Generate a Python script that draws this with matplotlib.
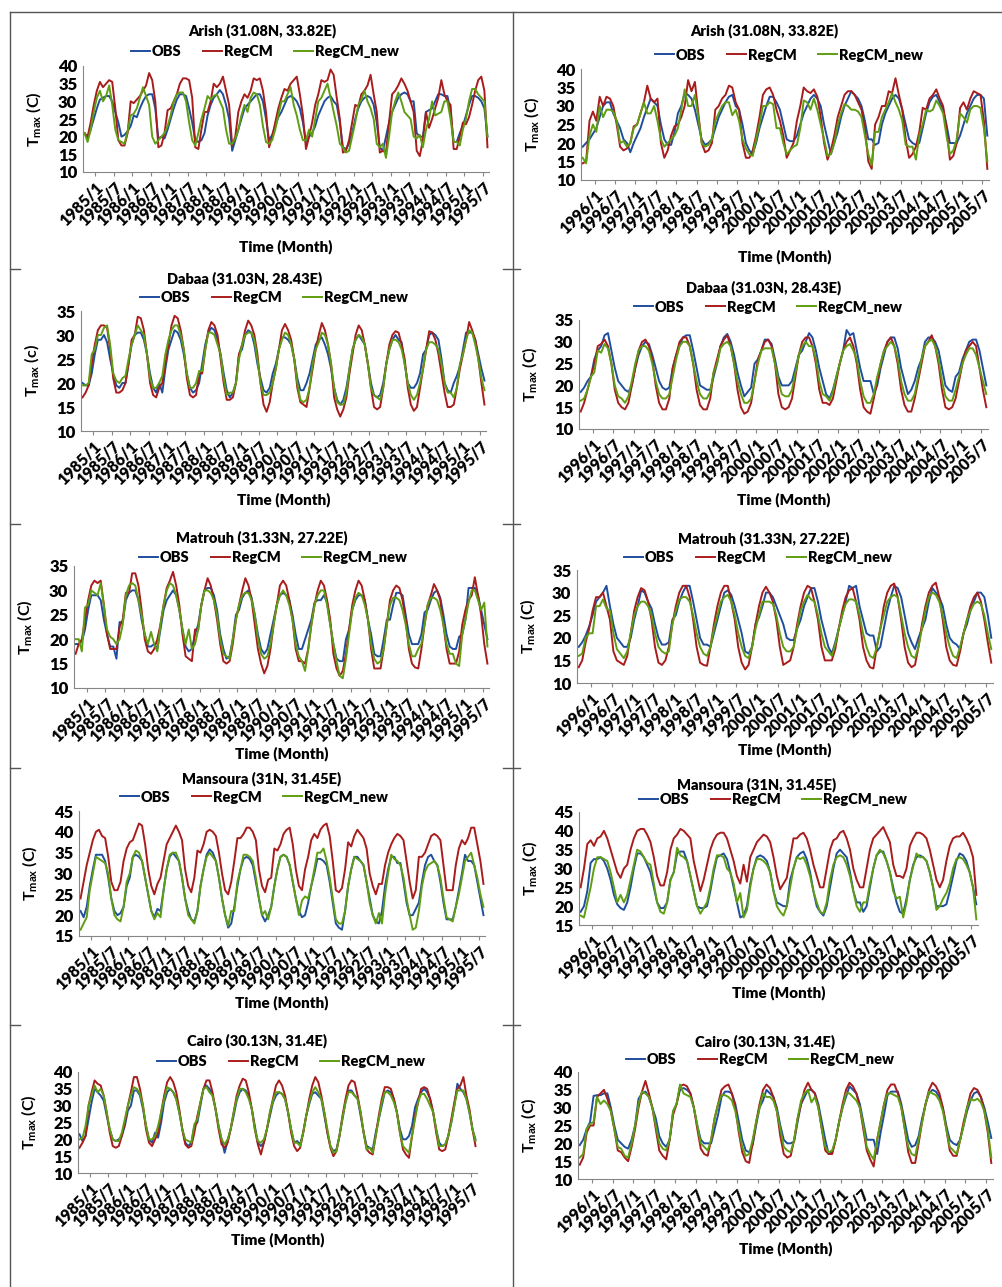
import numpy as np
import matplotlib.pyplot as plt
from matplotlib.lines import Line2D

plt.rcParams['font.family'] = ['Lato', 'DejaVu Sans']
plt.rcParams['font.weight'] = 'bold'
plt.rcParams['mathtext.fontset'] = 'custom'
plt.rcParams['mathtext.rm'] = 'Lato:bold'
plt.rcParams['mathtext.it'] = 'Lato:bold'
plt.rcParams['mathtext.bf'] = 'Lato:bold'


def arr(s):
    return np.array(s.split(), dtype=float)


# ---- data: monthly Tmax (C), one row per year ----
years_a = list(range(1985, 1996))
years_b = list(range(1996, 2006))

# Arish
arish_obs_a = arr("""
21 19.5 22 25 28 30.5 31 31.5 31.5 30 27 24
20 20.5 21.5 23 26 25.5 28 30 31.5 32 32 28
19.5 20 19.5 22 25 28 30.5 32 32 31.5 28 24
19 18.5 19 21 26 29 31 32 33.2 32 29 25
16 19 22 25 28 29 30 31 32 32 30 25
19 20.5 23 25.5 27 29 31 31.5 31 30 28 24
18.5 20 21 23 26 28 30 31 31.5 30 29 24
17 16.5 18 21 25 28 30 31 31.5 31 29 24
17 16 20 24 27 29 31 32 32.5 32 30 30
21 20 20 27 27.5 28 30 32 32 31.5 31.5 27
18.5 18.5 21 23 26 29 31.5 31.5 31 30 28 20
""")
arish_reg_a = arr("""
21 20 24 29 33 35.5 34 35 36 35.5 28 19
17.5 17.5 21 30 29.5 30.5 31.5 33 34.5 38 36 30
17 17.5 21 27.5 28 30 32 35 36.5 36.5 36 31
17 16.5 22 27 27 30 35 34 35 37 33 29
17.5 20 27 30 32 31 33 36.5 36 36.5 33 27
17 20 24 28 31 33.5 33 35 36 37 32 26
16.5 20 24 29 32 36 35.5 36 39 37.5 31 25
15.5 16 19 24 29 28.5 32 33 34.5 37.5 32 27
15.5 16 15.5 24 32 33 34.5 36.5 35 33 30 27
16 14.5 19 27 22.5 25 28 31 36 32 30 29
16.5 16.5 20 24 23.5 25.5 29 33 36 37 33 17
""")
arish_new_a = arr("""
21 18.5 22 27 31 33 30 31.5 34.5 29 22 19
18.5 18 21.5 26 26.5 28 31 34 31.5 29 20 18
19 20 21 23 26 30 32 32.5 32.5 30 24 19
17.5 21 25 28 31.5 30.5 31.5 32 30 28 22 18
18 19.5 22 26 29 27 31 32.5 32 29 23 18.5
18 19 22 26 30 30 32 34 29 26 22 19
19 22 20 25 30 31 33 35 31 27 23 18
17 15.5 16 20 24 29 30.5 33 30 28 25 18
17 18 14 20 27 30 32.5 30 27 26 25 20
19.5 20.5 17 22 25 30 26 26.5 27 30 30 25
18.5 18.5 17.5 22 25 30 33.5 33.5 32 31 30 20
""")
arish_obs_b = arr("""
19 20 21 22.5 24 27 30 31 31 28 26 24
21 20 17.5 20 22 24 27 29.5 32 31 30 25
21 19.5 19.5 23 28 30 33.5 33 32 29 25 21
19.5 20 21 24 27 29 31 32.5 33 30 29 25
20 18 17 20 24 27 30 32.5 32.5 31 29 25
21 20.5 20.5 22 25 28 30 32 33 32 30 25
21 17 20 23 27 30 32 34 33 32 30 26
21 21 19.5 20 25 28 30 32 33 32 29 25
21 20 19.5 20 24 28 31 32.5 33 31 29 25
20 20 20 22 25 28 30 32 33 33 32 22
""")
arish_reg_b = arr("""
14.5 15 26 28.5 26 32.5 30 32.5 32 30 25 19
18 18.5 20 24.5 25 28 31 35.5 32 31 32 20
16 18 22 24.5 25 27 30 37 34 36.5 28 20
17.5 18 20 29 30 32 33 35.5 35 31 29 20
16 16 18 22 27 33 34.5 35 33 29 26 22
16 18 20 26 30 35 34 33.5 34.5 32.5 27 20
15.5 18 22 27 30 33 34 34 33 31 29 24
15 13 25 27 30 30 34 33.5 37.5 33 29 21
16 17 19 23 29.5 29 32 33 34.5 32 30 24
15.5 16.5 20 29.5 31 29 32 34 33.5 33 26 13
""")
arish_new_b = arr("""
16 14.5 22 25 23 30 27 29 29 28.5 26 20
20.5 19 20 24 25 28 31 28 28 30 26 21
19 20 21 22 24 29 34.5 30 30 33 27 20
19 19.5 21 26 28 30 31 31 27.5 29 26 21
18.5 17 16.5 21 25 30 30 31 30.5 24 24 20
17 18 19 19.5 24 31.5 31 29 32 29 25 21
16.5 17 20 25 28 30.5 30 29 29 28.5 27 22
17 14 23 23 27 29 31 33.5 31 29 26 19.5
19 19 15.5 22 25 29 28.5 29 31.5 30 28 22
17 18 21 28 27 25.5 29 30 30 29.5 24 15
""")

# Dabaa
dabaa_obs_a = arr("""
20 19.5 19.5 22 26 29 29 30 28.5 25 22 19.5
19 20 20 24 28 30 30.5 30.5 29 26 22 19
18 20 18 23 27 29 31 30.5 29 26 22 19
18 18.5 20 24 28 30.5 31.5 31 29 26 22 18.5
17 18 20 26 27 30 31 30.5 28 24 21 18.5
18 19 22 24 27 29.5 29.5 29 28 25 21 18.5
18.5 20 22 25 28 29 29.5 28 26 23 19 16.5
15.5 16.5 19 23 27 29 30 29 28 24 20 17.5
17 17.5 20 24 27 29 30 29 28.5 24 20 19
19 20 22 26 27 30 30.5 30 29 25 20 18.5
18 20 21.5 23.5 27 30.5 30.5 30.5 29 26 23 20.5
""")
dabaa_reg_a = arr("""
17 18 19.5 24 28 31 32 32 31.5 27 21 18
18 18.5 20 24 29 30 33.8 33.5 31 26 20 17.5
17 19 20 24 28 32 34 33.5 31 27 21 17.5
17 17.5 22 22 27 31 32.7 32 30 25 20 16.5
16.5 17 20 26 28 31 33 32 30 26 20 15.5
14 16 20 23 27 31 32.3 31 29 25 19 16
15.5 15 19 23 27 30 32.5 31 28 24 17 14.5
13 14.5 17 22 26 30 32 31 28 24 19 15
14.5 15 19 24 28 30 30.8 30.5 28 25 19 15.5
14.2 15 19 23 27 30.8 30.5 29 26 22 18 15
15 15.5 19 23 26 29 32.7 31 29 25 20 15.5
""")
dabaa_new_a = arr("""
19.5 19.5 20 26 27 30 30 31.5 32 28 22 20.5
20 21 21.5 25 28 30 32 31 30 26 21 19
19 20 21.5 26 29 31 32 32 30 27 22 19
19 20 22.5 22.5 27 30.5 30.5 30 28 26 21 17.5
18 18 20 25 28 30 30.5 30.5 29 25 20 17.5
17.5 18 20 23 27 29 30.5 30 28 25 20 16.5
16 16.5 19 24 27 28.5 30.5 30 28 24 19 16
15.5 15.5 18 23 27 29 30 29.5 28 24 19 17.5
17 16.5 19 24 27 29 29 28.5 27 24 20 17.5
16.5 17.5 20 23 27 28.5 28.5 28 27 24 20 18
18 17 19 24 26 29 31 30.5 28 25 21 18.5
""")
dabaa_obs_b = arr("""
18.5 19.5 21 22 26 28 29 31.5 32 28 24 21
20 19 18.5 20 24 27 29 30 29.5 27 24 21
19.5 19 19.5 24 27 29 31 31.5 31.5 28 24 20
19.5 19 19 22 25 29 31 31.8 30 27 23 20
17.5 18.5 19.5 25 26 28 30.5 30.5 29.5 26 22 20
20 20 21 24 27 28 30 32 31 28 24 21
18 17 19 22 25 28 32.7 31.5 32 28 24 21
21 21 18 20 24 27 30 31 31 28.5 24 21
18 19 21 24 26 30 31 31 30 28 24 20
19 18.5 22 23 26 28 30 30.5 30.5 28 24 20
""")
dabaa_reg_b = arr("""
14 16 19 22 25 29 29.5 30.5 29 25 19 16
15 14.5 16 20 24 28 30 30.5 29 26 20 16
14.5 14.5 17 24 27 30 31 31 29 25 19 15.5
14.5 14.5 17 23 26 29 30.5 31.5 29 25 19 15
13.5 14 16 21 26 28 30 30.5 29 25 18 15
14.5 15 17 22 27 30 31 31 29 25 19 16
16 15.5 17 21 25 28 30 31 29 25 19 15
14 13.5 17 21 25 28 30 31 29 25 19 15.5
14 14 17 21 25 29 30 31.5 29 25 19 15
14.5 15 17 21 25 28 29 30 29 24 19 15
""")
dabaa_new_b = arr("""
16.5 17 19 22 23 28 27.5 29.5 28.5 25 20 17.5
17 16 17.5 21 25 28 29 29 28 25 21 18
17 17 18 22 26 29 30 30 29 25 21 18
17 17 18.5 23 25 28.5 29.5 30 29 25 21 18
16 16 17 21 25 28 28.5 28.5 28.5 25 21 18
17.5 17.5 19 23 27 29 30 29 29 26 21 18
17.5 16.5 18.5 22 25 28 29 29.5 28 26 21 17.5
16 16 18 22 25 28 29 30 29 26 21 18
16.5 16.5 18 22 26 29 30 30.5 29 26 21 17.5
16.5 16.5 19 22 25 27 28.5 28.5 27 24 21 18
""")

# Matrouh
matrouh_obs_a = arr("""
19 19 19.5 22 26 29 29 29 28 24 21 18.5
18.5 16 23.5 23.5 28 29.5 30 30 28 24 21 18.5
18.5 19 18 22 26 28 29 30 29 26 22 18.5
17.5 18 21 23 27 30 30.5 30.5 29 26 21 18
16 16.5 20 25 26 28.5 29.5 30 28.5 25 21 18
17 18 21 24 27 29 29.5 29 28 25 21 18
18 20 22 24 27.5 28 28 29 27.5 23 19 16
15.5 15.5 20 22 26 28 29 29 28 24 21 17
16.5 16.5 20 24 24 27 29.5 29.5 29 25 21 19
19 19 21 25.5 26 28 29.5 30 28.5 25 21 18.5
18 18 20.5 21 24 30.5 30.5 30.5 29 26 23 20
""")
matrouh_reg_a = arr("""
17 19 20 24 28 31 32 31.5 32 27 21 18
18 18 22.5 24 29.5 29.5 33.5 33.5 31 26 20 17.5
17 18 20 23 27 30.5 32 33.8 31 27 21 16.5
16 15.5 22 22 27 30 32.5 31 28 24 19 15.5
15 15.5 19 24 27 30 32.5 31 28 23 18 15
13 14.5 18 23 27 31 32 31 28 24 18 15.5
15.5 15 18 23 27 30 32 31 28 24 17 14
12.5 13.5 17 22 27 30 32 31 28 24 18 14
14 14 18 23 28 30 31 30.5 28 24 18 15
14.2 14 18 23 27 29 31.3 30 28 23 18 15
15 15 17.5 23 26 28 29 32.7 29 25 19 15
""")
matrouh_new_a = arr("""
20 20 17.5 26.5 27 30 29.5 29 31.5 27 22 20.5
20 19 20 23 29 31 31.5 31 28 25 21 19
21.5 19 17.5 23 27 30 31.5 31 29 26 22 19
22 18 19 22 27 30 30 29.5 28 25 20 17
16.5 16 20 24 27 29 29.5 29.5 28 25 20 17
16 16.5 19 23 27 29 30 29 27 24 19 16.5
15.5 13.5 18 23 27 29 30 30 27 23 19 15.5
12.5 12 16 21 26 28.5 29.5 29 27 24 19 16
15 15.5 18 23 27 28.5 28.5 28 26 23 19 16.5
16.5 18 19 23 27 28.5 28.5 28 26 23 19 17
17 15 14.5 21 24 27.5 30 30 28 26 27.5 18.5
""")
matrouh_obs_b = arr("""
18 19 20.5 22.5 25 28 29 30 31.5 27 23 20
19 18 18 20 24 27 30.5 30 28 26.5 23 20
18.5 18.5 19 24 25 28 30 31.5 31.5 28 24 20
18.5 18.5 18 21 24 27 30 30.5 29.5 27 24 21
17 16.5 18 23 24.5 27 30 30 29 27 25 23
20 19.5 19.5 22 24 27 29 31 31 28 24 21
18 16.5 19 22 25 28 31.5 31 31.5 27 24 21
20.5 20.5 17 18 22 26 29 31.5 31 29 25 21
19 17.5 20 22 24 28 31 30 29 27 23 20
19 18.5 17.5 21 23 26 28 30 30 29 25 20
""")
matrouh_reg_b = arr("""
13.5 15 19 22 26 29 29 30 27 24 17 15
14.5 14 16 21 26 29 31 30.5 28 24 18 14.5
14 15 18 23 27 30 31.5 31.5 29 24 18 14.5
14 13.8 18 23 27 30 31.5 31.5 28 24 18 14.5
13 14 18 23 27 30 31.3 30 28 24 18 14
14.5 15 18 23 27 30 31.5 31 28 24 18 15
15 15 17.5 22 26 29 30.5 31 28 24 18 15
13.5 13.2 18 22 27 30 31.5 32 29 24 18 14.5
13.5 14 18 23 27 30 31.5 32.2 29 24 18 15
14 13.8 17 21 24 27 29 30 28 24 19 14.5
""")
matrouh_new_b = arr("""
16 16.5 20 21 21 27 27 28.5 26.5 26 21 17.5
16.5 15.5 17 21 25 27 28 28 27 25 21 18
17 16.5 17 23 26 28.5 29 29 28 25 21 18
16.5 16 18 22 25 28 29 29.5 28 25 21 18
16 15.5 18 22 25 28 28 28 27.5 25 21 18
17 17 18 22 26 28 29.5 28.5 28 25 21 18
17 16 18.5 22 25 27.5 28.5 28.5 28 25 21 18
16 15.5 18 22 25 28 29 29.5 29 25 21 18
16 15.5 18 22 26 29 30 29.5 28 25 21 18
16 15.5 18 21 24 26 27.5 28 27.5 25 21 17.5
""")

# Mansoura
mansoura_obs_a = arr("""
21 19.5 22 27 31 34.5 34.5 34.5 33 29 24 21
20 20.5 22 27 29 34 34.5 34 33 29 25 21
19.5 21.5 21 26 31 34 35 34 33 29 24 21
19 18.5 21 27 31 34.5 35.8 35 33 29 24 20
17 18 22 27 31 33.5 34 33.5 32 28 24 20
18.5 20 22 27 31 34 34.5 34 32 28 24 21
19.5 20 23 27 30 33.5 33.5 33 32 28 23 18
17 16.5 21 27 31 34 34 33 32 28 24 20
18.5 18 21 27 31 34 34 32.5 32.5 28 23 20
20 21.5 23 28 32 34 34.5 33 32 28 23 19
19 19 22 26 30 34.5 33 33 32 28 24 20
""")
mansoura_reg_a = arr("""
24 28 32 35 38 40 40.5 39 38.5 34 28 26
26 28 33 36 37.5 38 40 42 41.5 37 31 27
25 27.5 29 33 37 38.5 40 41.5 40 38 31 27
25.5 29 35.5 35 37 40 40.5 40 39 35 30 26
25 28 33 38.5 38.5 39.5 41 41 40 38 31 27
25.5 28.5 29 36 35.5 37 39.5 40.5 41 37 31 27
26 31 34 38 39.5 38.5 40.5 41.5 42 39 33 26
25.5 26.5 31 37.5 36.5 39 40.5 39.5 38.5 36 30 27
25 27.5 27.5 32 35 37 38.5 39.5 39 38 33 28
24 26 34 34 35 37 39 39.5 39 38 32 26
26 26 32 36 38 37 38.5 41 41 37 33 27.5
""")
mansoura_new_a = arr("""
16.5 18 19.5 26 30 34 33.5 33 32.5 30 24 20
19 18.5 22 28 30 34 35.5 35 33 29 25 21
19 20.5 19.5 26 31 34.5 35 35 33 29 24 20
19 18 21 27 31 34 35 34 33 29 24 20
17.5 21 21 28 31 34.5 34.5 34 33 29 24 20
21 19 22 27 31 34 34.5 34 32 28 24 20
23.5 24.5 24 27 31 35 35 36 33 29 24 19
18 18 21 27 31 34 33.5 33 32 28 23 20
18 20.5 18 25 30 34.5 33.5 33 32 29 24 20
16.5 17 21 27 30.5 32 32.5 33 32 29 24 19.5
19 18.5 22 25 29 33 34 35 32 29 25 22
""")
mansoura_obs_b = arr("""
18.5 20 24 31.5 32.5 32.5 33 32 30 27 23 20.5
19.5 19 21 25 30 34 34 33 31 29 25 21
19.5 19.5 21 27 29 34 34.5 34.5 32 28 24 20
19.5 19.5 20 24 29 33 33.5 34 32.5 29 25 21
17 17.5 20 26 30 33 33.5 33 32 29 24 21
20.5 20 20 27 30 33 34 34.5 32.5 29 24 20
18.5 17.5 20 25 30 34 35 34 33 29 24 21
21 18.5 20 25 30 33.5 34.5 34.5 32 29 25 21
18.5 18 22 27 31 33 33.5 33 32 29 25 20
20 20 20.5 24 28 32 34 33.5 32 29 25 20.5
""")
mansoura_reg_b = arr("""
25 30 36.5 37.5 36 38 38.5 40 38 35 32 29
27.5 30 31 35 38 40 40.5 40.5 39 37 33 28
25.5 25.5 29 35 38 39 40.5 40 39 38 32 28
24 27 31 35 37.5 39 39.5 39.5 38 35 32 28
26 31 26.5 33 35 37 38 39 38.5 37 33 28
24.5 26 27.5 33 38 38 39 39.5 38 35 31 28
25 25 30 35 37.5 38 39.5 40 38 35 30 27
25 25 30 35 38 39 40 41 39 37 31 28
28 27.5 30 36 38 39.5 39.5 39 38 35 31 27
25 27 32 36 38 38.5 38.5 39.5 38 36 33 23
""")
mansoura_new_b = arr("""
17.5 17 21 25 30 33 33 32.5 32 29 25 21
23 21 23 27 31 35 34.5 33 31.5 31 26 21
18.5 18 21 27 29 35.5 33.5 33 32 28 24 20
18 19.5 21 25 30 33.5 33.5 33 30 29 26 21
23.5 17 19 25 30 32.5 32.5 32 31 29 24 20
18.5 17.5 20 25 30 33 32.5 33 31 28 24 21
18.5 18 21 27 31 33 33.5 33 31 28 24 20
18.5 21 21 26 30 33.5 35 34 32 29 24 22
22.5 17 21 27 30.5 34 33 33 32 29 25 19
20 22 23.5 26 30 32.5 33 32.5 31 29 25 16.5
""")

# Cairo
cairo_obs_a = arr("""
21.5 19.5 21 26 31 35 34 33 31.5 27 23 20
19.5 20 21 24 28.5 30 34.5 34.5 33 29 24 20
19 22 20.5 25 31 34 35 34 32 28 23 19
18 19 24 25 30 35 36 35 33 29 24 20
16 19.5 23 27 31.5 34 35 34.5 33 29 24 19
18 19 23 27 31 33 34 33.5 32 28 23 19
19.5 18.5 22 27 30.5 33.5 34 33 32 27 22 18
16.5 17 21 26 31 34.5 34.5 33 32 27 22 18
17.5 17 22 26 30 34 34.5 34 32 28 23 20
20 21 24 29.5 32 34 35 34 32 28 23 19
18 18.5 21 25 30 36.5 35 34 32 28 23 20
""")
cairo_reg_a = arr("""
17.5 19 21 30 34 37.5 36.5 36 33 28 22 18
17.5 18 21 25 30 34 38.5 38.5 35 30 23 19
18 20 22 28 33 37 38.5 37 34 29 23 18.5
17.5 18 22 27 31 35 37.5 37.5 34 29 23 18.5
17.5 19 23 28 33 36 38 37.5 34 29 23 18.5
15.5 19 23 28 32 36 37.5 36 33 28 22 18
16.5 17.5 22 27 32 36 38.5 37 33 28 22 17.5
15 16.5 21 27 32 36 37.5 37 33 28 22 17
16 15.5 21 27 32 35.5 35.5 35 32 28 22 17
15.5 14.5 21 27 31 35 35.5 35 32 28 22 17
16.5 17 21 26 31 35 36 38.5 33 29 23 18
""")
cairo_new_a = arr("""
20 20.5 24 30 33 36 34 35 33 28 23 20
19.5 19.5 22 26 30 33 35.5 35 33.5 30 24 20
20 21 24 28 32 35.5 35 34 32 28 23 20
19.5 19 24.5 26 31 35 35.5 34 33 29 24 20
18.5 20 23 28 32 35 35 34 32 29 23 19.5
19 20 23 28 31.5 34 34 33.5 32 28 23 19
19 18 22 27 31 34 35.5 34 32 28 23 18
16 16.5 21 26.5 31 34 34 33 32 28 22 17
17.5 16 21 26 31 34 34 33 31 28 22 18
17 16 21 26 31 33.5 33.5 32 30 28 23 18
18 18.5 21 25 30 34.5 34.5 34.5 32 28 23 19.5
""")
cairo_obs_b = arr("""
19.5 21 24 26 33.3 33.5 33.5 34 34 30 25 21
20 19 18.5 21 25 32.5 34 34.5 33 30 27 22
20 19 21 29 31 35 35.5 35 34 30 25 21
20 20 20 24 28 33 34.5 34.5 34 31 26 21
18 17.5 19.5 25 30 32 35 34 33 30 25 21
20 20 20.5 26 31 33 35 35 34 31 26 21
17 17.5 21 26 30 33 36 35 34 31 26 21
21 21 17 23 28 33.5 34.5 34.5 34.5 31 26 21
19 19.5 22 27 31 34 35 34.5 33 30 25 21
20 19.5 21 25 29 32 34 34.5 33 30 26 21.5
""")
cairo_reg_b = arr("""
14 16 23 25 25 33 34 35 32.5 29 24 18
17.5 16 15 19 24 30 34.5 37.5 34 30 24 18
16.5 15.5 21 28 31 36 36.5 36 34 30 24 18.5
17 16.5 21 27 31 35 36 36.5 34 30 23 17.5
15 14.5 20 26 31 35 36.5 35.5 33 29 22 17
16 16.5 21 27 31 35 37 35 34 30 24 18
17 17 21 26 31 35 37 36 34 30 24 18
15.5 13.5 21 26 31 35 36.5 36.5 34 30 24 17.5
14.5 14.5 20 26 31 35 37 36 34 30 24 18
16.5 16.5 21 26 30 34 35.5 35 33 29 23 14.5
""")
cairo_new_b = arr("""
16 17 24 25.5 26 33 31 32 31 29 24 19
18.5 16.5 16 20 25 31 34.5 34 33 30 25 20
18.5 18 21 29 31 36.5 34 33.5 33 30 25 20
19 18 21 27 31 33.5 33.5 33 32 29 24 19
16.5 17 21 26 30 34 33 33 32 29 24 19
18 17.5 21 27 32 34 35 31.5 33 30 24 19
17.5 18 21 26 30 34 34 33 32 30 25 19
17 15.5 21 26 31 34 34 33.5 33 30 24 19
17 16.5 21 26 31 34.5 34 33.5 32 29 24 19
18 17 21 25 30 32.5 32 32.5 31.5 29 24 16
""")

# ---- layout (pixel boxes measured on the page) ----
W, H = 1003, 1287
C_OBS, C_REG, C_NEW = '#1f4e9e', '#a81c1c', '#5f9e12'

panels = [
    # name, obs, reg, new, years, ylim, ylabel unit, axes box (l,t,r,b), title xy, legend xy, xlabel y
    ('Arish (31.08N, 33.82E)', arish_obs_a, arish_reg_a, arish_new_a, years_a, (10, 40), 'C',
     (83, 66, 489, 172), (262, 31), (265, 52), 247),
    ('Arish (31.08N, 33.82E)', arish_obs_b, arish_reg_b, arish_new_b, years_b, (10, 40), 'C',
     (581, 69, 989, 180), (764, 31), (789, 55), 257),
    ('Dabaa (31.03N, 28.43E)', dabaa_obs_a, dabaa_reg_a, dabaa_new_a, years_a, (10, 35), 'c',
     (81, 311, 486, 431), (245, 279), (274, 298), 500),
    ('Dabaa (31.03N, 28.43E)', dabaa_obs_b, dabaa_reg_b, dabaa_new_b, years_b, (10, 35), 'C',
     (579, 320, 988, 429), (764, 288), (768, 307), 500),
    ('Matrouh (31.33N, 27.22E)', matrouh_obs_a, matrouh_reg_a, matrouh_new_a, years_a, (10, 35), 'C',
     (74, 566, 489, 688), (262, 538), (273, 558), 754),
    ('Matrouh (31.33N, 27.22E)', matrouh_obs_b, matrouh_reg_b, matrouh_new_b, years_b, (10, 35), 'C',
     (577, 570, 993, 683), (764, 539), (758, 558), 750),
    ('Mansoura (31N, 31.45E)', mansoura_obs_a, mansoura_reg_a, mansoura_new_a, years_a, (15, 45), 'C',
     (79, 811, 485, 936), (262, 779), (254, 797), 1003),
    ('Mansoura (31N, 31.45E)', mansoura_obs_b, mansoura_reg_b, mansoura_new_b, years_b, (15, 45), 'C',
     (579, 812, 978, 925), (757, 785), (773, 800), 993),
    ('Cairo (30.13N, 31.4E)', cairo_obs_a, cairo_reg_a, cairo_new_a, years_a, (10, 40), 'C',
     (78, 1072, 477, 1173), (257, 1041), (291, 1062), 1240),
    ('Cairo (30.13N, 31.4E)', cairo_obs_b, cairo_reg_b, cairo_new_b, years_b, (10, 40), 'C',
     (578, 1072, 993, 1179), (765, 1042), (760, 1060), 1249),
]

fig = plt.figure(figsize=(W / 100, H / 100), dpi=100)

for (name, obs, reg, new, years, ylim, unit, box, txy, lxy, xly) in panels:
    l, t, r, b = box
    ax = fig.add_axes([l / W, 1 - b / H, (r - l) / W, (b - t) / H])
    x = np.arange(len(obs))
    ax.plot(x, obs, color=C_OBS, lw=1.4, label='OBS')
    ax.plot(x, reg, color=C_REG, lw=1.4, label='RegCM')
    ax.plot(x, new, color=C_NEW, lw=1.4, label='RegCM_new')

    ax.set_xlim(-0.5, len(obs) - 0.5)
    ax.set_ylim(*ylim)
    ax.set_yticks(np.arange(ylim[0], ylim[1] + 1, 5))
    ticks = np.arange(3.5, len(obs), 6)
    labels = [f'{y}/{m}' for y in years for m in (1, 7)]
    ax.set_xticks(ticks, labels, rotation=45, ha='right', va='top',
                  rotation_mode='anchor', fontsize=11.5, fontweight='heavy')
    ax.tick_params(axis='x', length=3, color='#868686', pad=2)
    ax.tick_params(axis='y', length=0, labelsize=12, pad=4)
    for lab in ax.get_yticklabels():
        lab.set_fontweight('heavy')
    for s in ('top', 'right'):
        ax.spines[s].set_visible(False)
    for s in ('left', 'bottom'):
        ax.spines[s].set_color('#868686')

    ax.set_ylabel(f'T$_{{max}}$ ({unit})', fontsize=11.5, fontweight='bold')
    ax.yaxis.set_label_coords(-40 / (r - l), 0.5)

    fig.text(txy[0] / W, 1 - txy[1] / H, name, ha='center', va='center',
             fontsize=10.5, fontweight='heavy')
    fig.text((l + r) / 2 / W, 1 - xly / H, 'Time (Month)', ha='center', va='center',
             fontsize=11, fontweight='heavy')
    ax.legend(loc='center', bbox_to_anchor=(lxy[0] / W, 1 - lxy[1] / H),
              bbox_transform=fig.transFigure, ncol=3, frameon=False,
              handlelength=1.3, handletextpad=0.1, columnspacing=1.5,
              prop={'size': 10.5, 'weight': 'heavy'})

# table frame lines
def hline(y, x0, x1):
    fig.add_artist(Line2D([x0 / W, x1 / W], [1 - y / H, 1 - y / H], color='#555555', lw=1))

def vline(x, y0, y1):
    fig.add_artist(Line2D([x / W, x / W], [1 - y0 / H, 1 - y1 / H], color='#555555', lw=1))

hline(12, 10, 1003)
vline(10, 12, 1287)
vline(513, 12, 1287)
for yy in (269, 524, 768, 1025):
    hline(yy, 10, 20)
    hline(yy, 503, 520)

plt.savefig('out.png', dpi=100, facecolor='white')
